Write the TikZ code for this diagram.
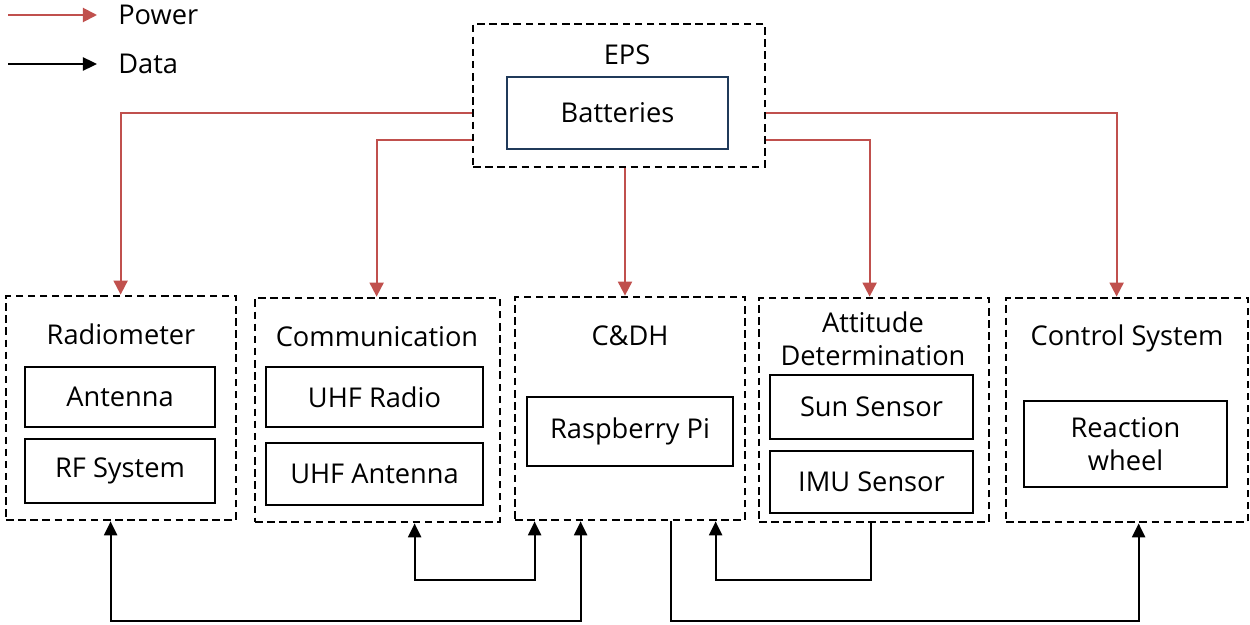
\documentclass[tikz,border=0pt]{standalone}
\usepackage{fontspec}
\setmainfont{Open Sans}
\usepackage{xcolor}
\definecolor{pwred}{HTML}{C0504D}
\definecolor{batnavy}{HTML}{203A5A}
\definecolor{dtink}{HTML}{000000}
\usepackage{tikz}
\usetikzlibrary{arrows.meta,calc}

\begin{document}
\begin{tikzpicture}[
      x=0.02cm, y=-0.02cm,
      font=\fontsize{15.5}{18.5}\selectfont,
      grp/.style={draw=black, line width=1.6pt, dash pattern=on 4.3pt off 2.6pt,
                  inner sep=0pt},
      part/.style={draw=black, line width=1.5pt, align=center, inner sep=0pt},
      ttl/.style={align=center, inner sep=0pt},
      pw/.style={-{Triangle[length=8pt,width=8pt]}, draw=pwred, line width=1.1pt},
      dt/.style={-{Triangle[length=8pt,width=7.5pt]}, draw=dtink, line width=1.1pt},
      dtboth/.style={{Triangle[length=8pt,width=7.5pt]}-{Triangle[length=8pt,width=7.5pt]},
                  draw=dtink, line width=1.1pt},
    ]
    \useasboundingbox (0,0) rectangle (1250,625);

    % legend
    \coordinate (pwa) at (8,15);   \coordinate (pwb) at (97,15);
    \coordinate (dta) at (8,64);   \coordinate (dtb) at (97,64);
    \draw[pw] (pwa) -- (pwb);
    \draw[dt] (dta) -- (dtb);
    \node[anchor=west, inner sep=0pt] (lgpw) at (118,15) {Power};
    \node[anchor=west, inner sep=0pt] (lgdt) at (118,64) {Data};

    % power source
    \node[grp, minimum width=5.84cm, minimum height=2.86cm] (eps) at (619,95.5) {};
    \node[ttl] (epst) at (627,55) {EPS};
    \node[part, draw=batnavy, minimum width=4.42cm, minimum height=1.44cm]
          (bat) at (617.5,113) {Batteries};

    % subsystems
    \node[grp, minimum width=4.6cm,  minimum height=4.48cm] (rad)  at (121,408)   {};
    \node[grp, minimum width=4.9cm,  minimum height=4.48cm] (comm) at (377.5,410) {};
    \node[grp, minimum width=4.6cm,  minimum height=4.46cm] (cdh)  at (630,408.5) {};
    \node[grp, minimum width=4.6cm,  minimum height=4.48cm] (att)  at (874,410)   {};
    \node[grp, minimum width=4.84cm, minimum height=4.48cm] (ctrl) at (1127,410)  {};

    \node[ttl] (radt)  at (121,334)  {Radiometer};
    \node[ttl] (commt) at (377,337)  {Communication};
    \node[ttl] (cdht)  at (630,336)  {C\&DH};
    \node[ttl] (attt)  at (873,339)  {Attitude\\Determination};
    \node[ttl] (ctrlt) at (1127,338) {Control System};

    \node[part, minimum width=3.8cm,  minimum height=1.2cm]  (ant)  at (120,397)    {Antenna};
    \node[part, minimum width=3.8cm,  minimum height=1.28cm] (rf)   at (120,471)    {RF System};
    \node[part, minimum width=4.34cm, minimum height=1.2cm]  (uhfr) at (374.5,397)  {UHF Radio};
    \node[part, minimum width=4.34cm, minimum height=1.24cm] (uhfa) at (374.5,474)  {UHF Antenna};
    \node[part, minimum width=4.12cm, minimum height=1.38cm] (rpi)  at (630,431.5)  {Raspberry Pi};
    \node[part, minimum width=4.06cm, minimum height=1.28cm] (sun)  at (871.5,407)  {Sun Sensor};
    \node[part, minimum width=4.06cm, minimum height=1.24cm] (imu)  at (871.5,482)  {IMU Sensor};
    \node[part, minimum width=4.06cm, minimum height=1.72cm] (rw)   at (1125.5,444) {Reaction\\wheel};

    % power lines
    \coordinate (epsdn) at ($(eps.south)+(6,0)$);
    \draw[pw] ($(eps.west)+(0,17.5)$) -| ($(rad.north west)+(116,0)$);
    \draw[pw] ($(eps.west)+(0,44.5)$) -| ($(comm.north west)+(123,0)$);
    \draw[pw] (epsdn) -- (epsdn |- cdh.north);
    \draw[pw] ($(eps.east)+(0,44.5)$) -| ($(att.north west)+(112,0)$);
    \draw[pw] ($(eps.east)+(0,17.5)$) -| ($(ctrl.north west)+(112,0)$);

    % data lines
    \draw[dtboth] ($(rad.south west)+(106,0)$) -- ++(0,100) -| ($(cdh.south west)+(67,0)$);
    \draw[dtboth] ($(comm.south west)+(161,0)$) -- ++(0,57) -| ($(cdh.south west)+(21,0)$);
    \draw[dt] ($(att.south west)+(113,0)$) -- ++(0,57) -| ($(cdh.south west)+(202,0)$);
    \draw[dt] ($(cdh.south west)+(157,0)$) -- ++(0,100) -| ($(ctrl.south west)+(134,0)$);

  \end{tikzpicture}
\end{document}
